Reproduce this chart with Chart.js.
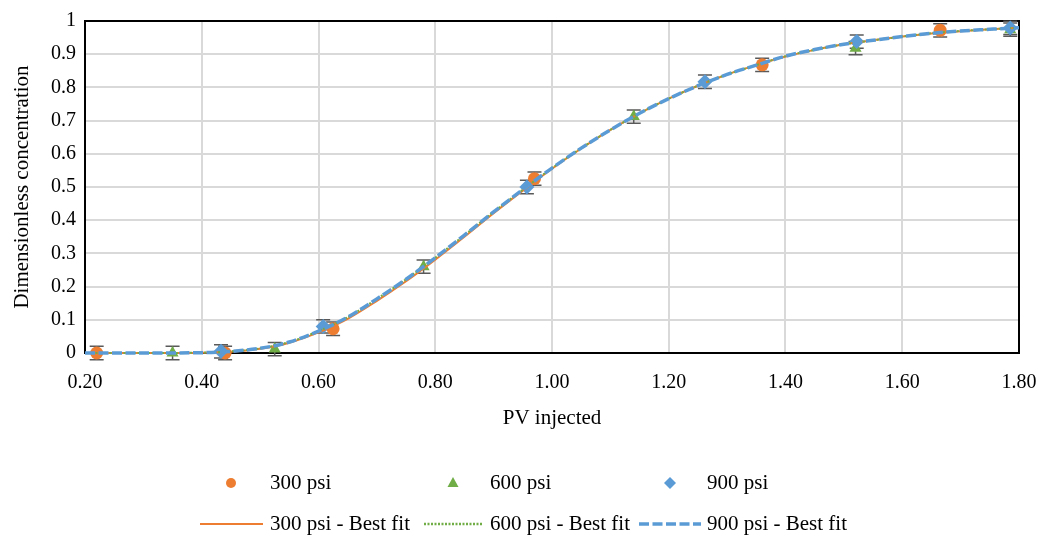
<!DOCTYPE html>
<html>
<head>
<meta charset="utf-8">
<script src="https://cdn.jsdelivr.net/npm/chart.js@4/dist/chart.umd.min.js"></script>
<style>
  html, body { margin: 0; padding: 0; background: #fff; }
</style>
</head>
<body>
<canvas id="chart" width="1038" height="535"></canvas>
<script>
// measured points (PV injected, dimensionless concentration)
const pv300 = [0.22, 0.44, 0.625, 0.97, 1.36, 1.665]
const c300 = [0.0, 0.0, 0.073, 0.525, 0.868, 0.972]
const err300 = [0.02, 0.02, 0.02, 0.02, 0.02, 0.02]

const pv600 = [0.35, 0.525, 0.78, 1.14, 1.52, 1.785]
const c600 = [0.0, 0.012, 0.26, 0.712, 0.918, 0.974]
const err600 = [0.02, 0.02, 0.02, 0.02, 0.02, 0.02]

const pv900 = [0.433, 0.608, 0.957, 1.262, 1.522, 1.785]
const c900 = [0.005, 0.08, 0.50, 0.817, 0.938, 0.979]
const err900 = [0.02, 0.02, 0.02, 0.02, 0.02, 0.02]

// best fit curves
const fitX = [0.20, 0.30, 0.40, 0.45, 0.50, 0.55, 0.60, 0.65, 0.70, 0.75, 0.80, 0.85, 0.90, 0.95, 1.00, 1.05, 1.10, 1.15, 1.20, 1.25, 1.30, 1.35, 1.40, 1.45, 1.50, 1.55, 1.60, 1.65, 1.70, 1.75, 1.80]
const fit300 = [0.000, 0.000, 0.001, 0.004, 0.013, 0.031, 0.062, 0.103, 0.157, 0.216, 0.281, 0.350, 0.421, 0.489, 0.555, 0.616, 0.672, 0.722, 0.766, 0.805, 0.839, 0.867, 0.893, 0.913, 0.930, 0.942, 0.953, 0.962, 0.969, 0.975, 0.980]
const fit600 = [0.000, 0.000, 0.001, 0.005, 0.014, 0.033, 0.066, 0.108, 0.163, 0.222, 0.287, 0.355, 0.425, 0.492, 0.557, 0.617, 0.672, 0.722, 0.766, 0.805, 0.839, 0.867, 0.894, 0.913, 0.930, 0.942, 0.953, 0.963, 0.970, 0.975, 0.980]
const fit900 = [0.000, 0.000, 0.001, 0.005, 0.014, 0.033, 0.066, 0.108, 0.163, 0.222, 0.287, 0.355, 0.425, 0.492, 0.557, 0.617, 0.672, 0.722, 0.766, 0.805, 0.839, 0.867, 0.894, 0.914, 0.930, 0.942, 0.953, 0.963, 0.970, 0.975, 0.980]

const xTicks = [0.2, 0.4, 0.6, 0.8, 1.0, 1.2, 1.4, 1.6, 1.8]
const seriesNames = ['300 psi', '600 psi', '900 psi']

const ORANGE = '#ED7D31'
const GREEN = '#70AD47'
const BLUE = '#5B9BD5'
const FONT = "'Liberation Serif', 'Times New Roman', serif"

function pts(xs, ys) {
  return xs.map((x, i) => ({ x: x, y: ys[i] }))
}

// frame + error bars, drawn under the marks
const framePlugin = {
  id: 'frame',
  beforeDatasetsDraw(chart) {
    const { ctx, chartArea: a, scales } = chart
    ctx.save()
    ctx.strokeStyle = '#000'
    ctx.lineWidth = 2
    ctx.strokeRect(a.left, a.top, a.right - a.left, a.bottom - a.top)

    const sets = [[pv300, c300, err300], [pv600, c600, err600], [pv900, c900, err900]]
    ctx.strokeStyle = '#595959'
    ctx.lineWidth = 1.5
    sets.forEach(([xs, ys, es]) => {
      xs.forEach((x, i) => {
        const px = scales.x.getPixelForValue(x)
        const y1 = scales.y.getPixelForValue(ys[i] + es[i])
        const y2 = scales.y.getPixelForValue(ys[i] - es[i])
        ctx.beginPath()
        ctx.moveTo(px, y1); ctx.lineTo(px, y2)
        ctx.moveTo(px - 7, y1); ctx.lineTo(px + 7, y1)
        ctx.moveTo(px - 7, y2); ctx.lineTo(px + 7, y2)
        ctx.stroke()
      })
    })
    ctx.restore()
  }
}

// Excel style two row legend
const legendPlugin = {
  id: 'xlLegend',
  afterDraw(chart) {
    const ctx = chart.ctx
    ctx.save()
    ctx.font = '21px ' + FONT
    ctx.textBaseline = 'middle'
    ctx.textAlign = 'left'
    const textX = [270, 490, 707]

    // row 1: markers
    const r1 = 483
    ctx.fillStyle = ORANGE
    ctx.beginPath(); ctx.arc(231, r1, 5, 0, Math.PI * 2); ctx.fill()
    ctx.fillStyle = GREEN
    ctx.beginPath(); ctx.moveTo(453, r1 - 6); ctx.lineTo(458.5, r1 + 4); ctx.lineTo(447.5, r1 + 4); ctx.closePath(); ctx.fill()
    ctx.fillStyle = BLUE
    ctx.beginPath(); ctx.moveTo(670, r1 - 6); ctx.lineTo(676, r1); ctx.lineTo(670, r1 + 6); ctx.lineTo(664, r1); ctx.closePath(); ctx.fill()
    ctx.fillStyle = '#000'
    seriesNames.forEach((n, i) => ctx.fillText(n, textX[i], r1))

    // row 2: fit lines
    const r2 = 524
    const lines = [
      [200, 263, ORANGE, 2, []],
      [424, 483, GREEN, 2.5, [2, 1.5]],
      [639, 701, BLUE, 3.5, [10, 3.5]]
    ]
    lines.forEach(([x1, x2, col, w, dash], i) => {
      ctx.strokeStyle = col
      ctx.lineWidth = w
      ctx.setLineDash(dash)
      ctx.beginPath(); ctx.moveTo(x1, r2); ctx.lineTo(x2, r2); ctx.stroke()
      ctx.setLineDash([])
      ctx.fillText(seriesNames[i] + ' - Best fit', textX[i], r2)
    })
    ctx.restore()
  }
}

new Chart('chart', {
  type: 'scatter',
  data: {
    datasets: [
      {
        label: '300 psi', data: pts(pv300, c300), order: 6, clip: false,
        pointStyle: 'circle', pointRadius: 6.5, pointBackgroundColor: ORANGE, pointBorderWidth: 0
      },
      {
        label: '600 psi', data: pts(pv600, c600), order: 5, clip: false,
        pointStyle: 'triangle', pointRadius: 7, pointBackgroundColor: GREEN, pointBorderWidth: 0
      },
      {
        label: '900 psi', data: pts(pv900, c900), order: 4, clip: false,
        pointStyle: 'rectRot', pointRadius: 7.5, pointBackgroundColor: BLUE, pointBorderWidth: 0
      },
      {
        type: 'line', label: '300 psi - Best fit', data: pts(fitX, fit300), order: 3, clip: false,
        borderColor: ORANGE, borderWidth: 2, pointRadius: 0, fill: false, cubicInterpolationMode: 'monotone'
      },
      {
        type: 'line', label: '600 psi - Best fit', data: pts(fitX, fit600), order: 2, clip: false,
        borderColor: GREEN, borderWidth: 2, borderDash: [2, 1.5], pointRadius: 0, fill: false, cubicInterpolationMode: 'monotone'
      },
      {
        type: 'line', label: '900 psi - Best fit', data: pts(fitX, fit900), order: 1, clip: false,
        borderColor: BLUE, borderWidth: 3.5, borderDash: [10, 3.5], pointRadius: 0, fill: false, cubicInterpolationMode: 'monotone'
      }
    ]
  },
  options: {
    responsive: false,
    animation: false,
    layout: { padding: { left: 0, right: 19, top: 20, bottom: 104 } },
    plugins: {
      legend: { display: false },
      tooltip: { enabled: false }
    },
    scales: {
      x: {
        type: 'linear',
        min: xTicks[0],
        max: xTicks[xTicks.length - 1],
        afterBuildTicks: s => { s.ticks = xTicks.map(v => ({ value: v })) },
        afterFit: s => { s.height = 78; s.paddingLeft = 0; s.paddingRight = 0 },
        ticks: {
          callback: v => Number(v).toFixed(2),
          color: '#000', padding: 18, maxRotation: 0,
          font: { family: FONT, size: 20 }
        },
        grid: { color: '#D9D9D9', lineWidth: 2, drawTicks: false },
        border: { color: '#000', width: 2 },
        title: {
          display: true, text: 'PV injected', color: '#000',
          font: { family: FONT, size: 21 }, padding: { top: 0, bottom: 0 }
        }
      },
      y: {
        min: 0,
        max: 1,
        afterFit: s => { s.width = 85 },
        ticks: {
          stepSize: 0.1,
          callback: v => String(Math.round(v * 10) / 10),
          color: '#000', padding: 9,
          font: { family: FONT, size: 20 }
        },
        grid: { color: '#D9D9D9', lineWidth: 2, drawTicks: false },
        border: { color: '#000', width: 2 },
        title: {
          display: true, text: 'Dimensionless concentration', color: '#000',
          font: { family: FONT, size: 21 }, padding: { top: 10, bottom: 0 }
        }
      }
    }
  },
  plugins: [framePlugin, legendPlugin]
})
</script>
</body>
</html>
